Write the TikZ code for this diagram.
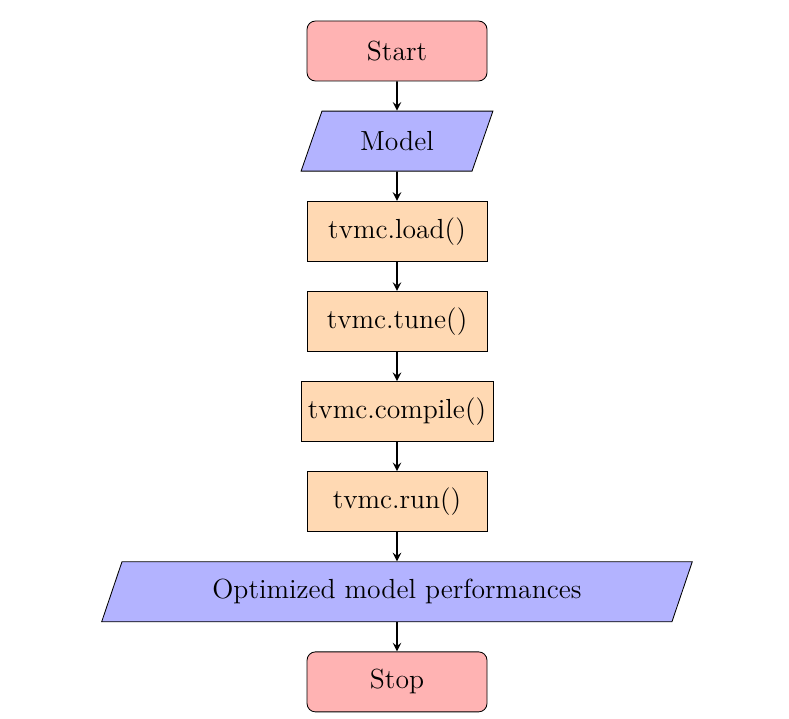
\documentclass[tikz,border=0pt]{standalone}
\usepackage{tikz}
\usetikzlibrary{positioning,shapes.geometric}
\definecolor{StopRed}{HTML}{FFB3B3}
\definecolor{IOBlue}{HTML}{B3B3FF}
\definecolor{ProcOrange}{HTML}{FFD9B3}
\begin{document}
\begin{tikzpicture}[>=stealth,node distance=4.88mm]
  \tikzstyle{startstop}=[rectangle,rounded corners,draw=black,fill=StopRed,
    minimum width=3cm,minimum height=1cm,align=center,
    font=\fontsize{13.1}{15.5}\selectfont]
  \tikzstyle{iobox}=[trapezium,trapezium left angle=70,trapezium right angle=110,
    trapezium stretches=true,draw=black,fill=IOBlue,minimum height=1cm,
    align=center,font=\fontsize{13.1}{15.5}\selectfont]
  \tikzstyle{process}=[rectangle,draw=black,fill=ProcOrange,
    minimum width=3cm,minimum height=1cm,align=center,
    font=\fontsize{13.1}{15.5}\selectfont]
  \tikzstyle{arrow}=[thick,->,>=stealth]
  \useasboundingbox (-6.617,0.85) rectangle (6.533,-11.117);
  \node[startstop] (start) {Start};
  \node[iobox,minimum width=3.2cm,below=of start] (model) {Model};
  \node[process,below=of model] (load) {tvmc.load()};
  \node[process,below=of load] (tune) {tvmc.tune()};
  \node[process,below=of tune] (compile) {tvmc.compile()};
  \node[process,below=of compile] (run) {tvmc.run()};
  \node[iobox,minimum width=9.87cm,below=of run] (perf) {Optimized model performances};
  \node[startstop,below=of perf] (stop) {Stop};
  \draw[arrow] (start)--(model);
  \draw[arrow] (model)--(load);
  \draw[arrow] (load)--(tune);
  \draw[arrow] (tune)--(compile);
  \draw[arrow] (compile)--(run);
  \draw[arrow] (run)--(perf);
  \draw[arrow] (perf)--(stop);
\end{tikzpicture}
\end{document}
